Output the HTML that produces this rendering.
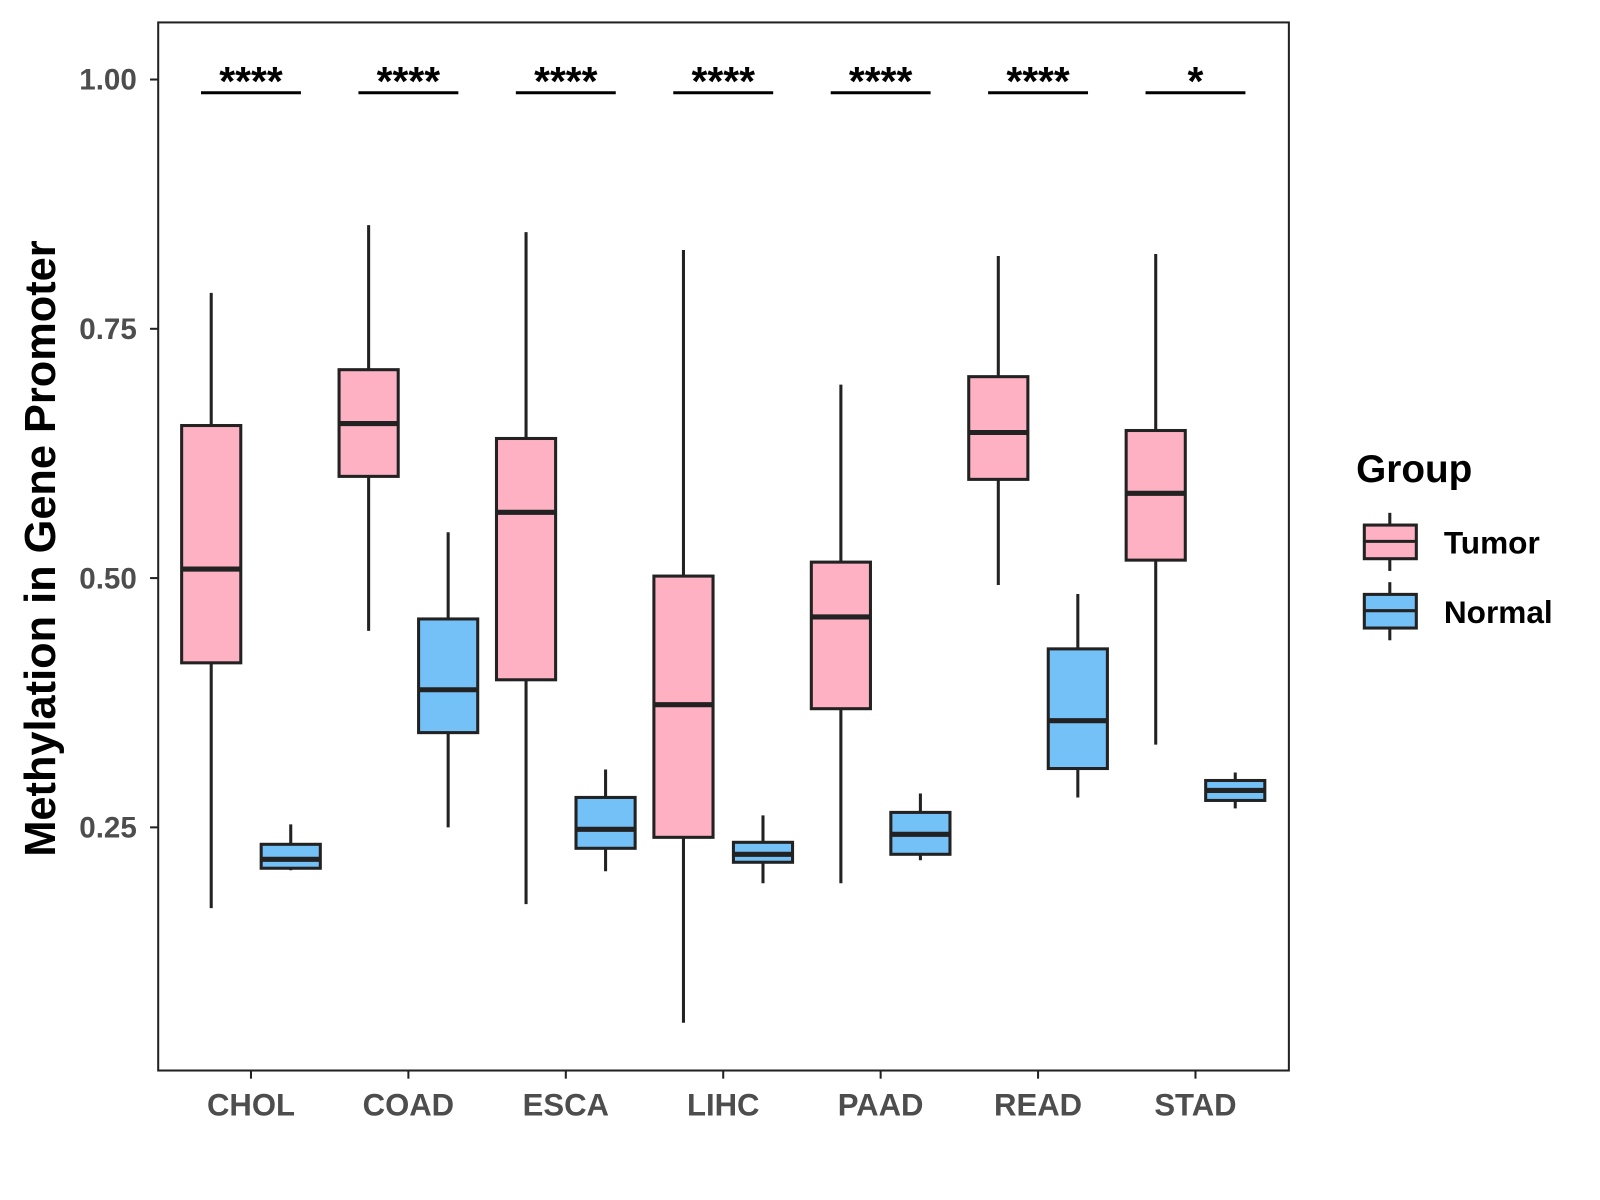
<!DOCTYPE html>
<html><head><meta charset="utf-8"><style>
html,body{margin:0;padding:0;background:#fff;}
svg{display:block;font-family:"Liberation Sans",Arial,sans-serif;}
</style></head><body>
<svg id="chart" width="1600" height="1200" viewBox="0 0 1569 1177">
<rect x="155" y="22" width="1109" height="1028" fill="#fff" stroke="#222" stroke-width="2"/>
<g id="marks"></g>
<text transform="translate(54,538) rotate(-90)" text-anchor="middle" font-size="42.5" font-weight="bold" fill="#000">Methylation in Gene Promoter</text>
<g>
<text x="1330" y="473" font-size="38" font-weight="bold">Group</text>
<g>
<line x1="1363" y1="503" x2="1363" y2="560" stroke="#222" stroke-width="3"/>
<rect x="1338" y="515" width="51" height="33" fill="#FDB1C3" stroke="#222" stroke-width="3"/>
<line x1="1338" y1="531" x2="1389" y2="531" stroke="#222" stroke-width="3"/>
<text x="1416" y="543" font-size="31" font-weight="bold">Tumor</text></g>
<g>
<line x1="1363" y1="571" x2="1363" y2="628" stroke="#222" stroke-width="3"/>
<rect x="1338" y="583" width="51" height="33" fill="#74C1F8" stroke="#222" stroke-width="3"/>
<line x1="1338" y1="599" x2="1389" y2="599" stroke="#222" stroke-width="3"/>
<text x="1416" y="611" font-size="31" font-weight="bold">Normal</text></g>
</g>
</svg>
<script>
const categories=["CHOL","COAD","ESCA","LIHC","PAAD","READ","STAD"];
const tumorLow=[0.169,0.447,0.173,0.054,0.194,0.493,0.333];
const tumorQ1=[0.415,0.602,0.398,0.240,0.369,0.599,0.518];
const tumorMed=[0.509,0.655,0.566,0.373,0.461,0.646,0.585];
const tumorQ3=[0.653,0.709,0.640,0.502,0.516,0.702,0.648];
const tumorHigh=[0.786,0.854,0.847,0.829,0.694,0.823,0.825];
const normalLow=[0.207,0.250,0.206,0.194,0.217,0.280,0.269];
const normalQ1=[0.209,0.345,0.229,0.215,0.223,0.309,0.277];
const normalMed=[0.218,0.388,0.248,0.223,0.243,0.357,0.287];
const normalQ3=[0.233,0.459,0.280,0.235,0.265,0.429,0.297];
const normalHigh=[0.253,0.546,0.308,0.262,0.284,0.484,0.305];
const signif=["****","****","****","****","****","****","*"];
const yTicks=[0.25,0.50,0.75,1.00];
const yTickLabels=["0.25","0.50","0.75","1.00"];

const NS="http://www.w3.org/2000/svg";
const g=document.getElementById('marks');
function y(v){return 78+(1-v)*978;}
function x(i){return 246+i*154.4;}
function mk(tag,attrs,parent){const e=document.createElementNS(NS,tag);for(const k in attrs)e.setAttribute(k,attrs[k]);(parent||g).appendChild(e);return e;}

yTicks.forEach((t,i)=>{
  const tl=mk('line',{x1:147,x2:155,y1:y(t),y2:y(t),stroke:'#222','stroke-width':2});
  
  
  const tx=mk('text',{x:134,y:y(t)+10,'text-anchor':'end','font-size':29,'font-weight':'bold',fill:'#4d4d4d'});
  tx.textContent=yTickLabels[i];
  
  
});
categories.forEach((c,i)=>{
  const cx=x(i);
  const tl=mk('line',{x1:cx,x2:cx,y1:1050,y2:1058,stroke:'#222','stroke-width':2});
  
  
  const tx=mk('text',{x:cx,y:1094,'text-anchor':'middle','font-size':30.5,'font-weight':'bold',fill:'#4d4d4d'});
  tx.textContent=c;
  
  
  const sets=[[cx-39,tumorLow,tumorQ1,tumorMed,tumorQ3,tumorHigh,'#FDB1C3','tumor'],[cx+39,normalLow,normalQ1,normalMed,normalQ3,normalHigh,'#74C1F8','normal']];
  sets.forEach(s=>{
    const [bx,lo,q1,md,q3,hi,col,nm]=s;
    const grp=mk('g',{});
    
    
    mk('line',{x1:bx,x2:bx,y1:y(hi[i]),y2:y(lo[i]),stroke:'#222','stroke-width':3},grp);
    mk('rect',{x:bx-29,y:y(q3[i]),width:58,height:y(q1[i])-y(q3[i]),fill:col,stroke:'#222','stroke-width':3},grp);
    mk('line',{x1:bx-29,x2:bx+29,y1:y(md[i]),y2:y(md[i]),stroke:'#222','stroke-width':5},grp);
  });
  const sl=mk('line',{x1:cx-49,x2:cx+49,y1:91,y2:91,stroke:'#000','stroke-width':3});
  
  
  const st=mk('text',{x:cx,y:93,'text-anchor':'middle','font-size':40,'font-weight':'bold',fill:'#000'});
  st.textContent=signif[i];
  
  
});
</script>
</body></html>
